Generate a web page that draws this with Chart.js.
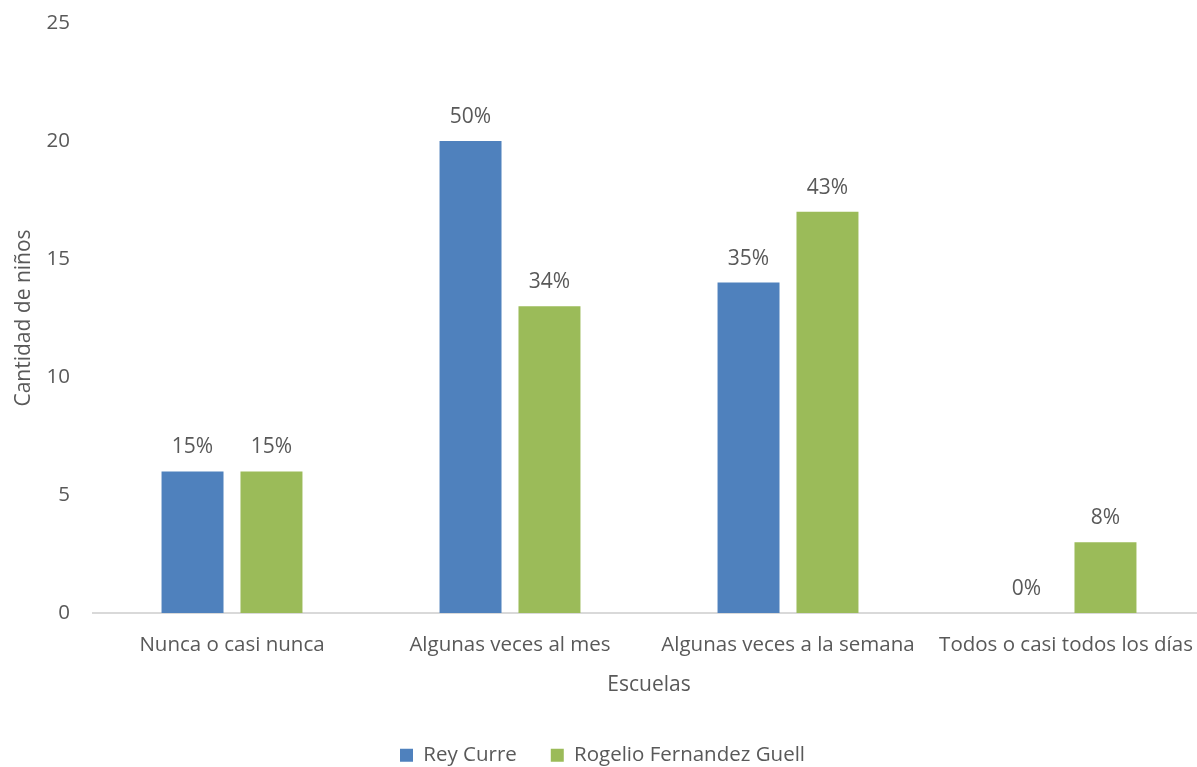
<!DOCTYPE html>
<html>
<head>
<meta charset="utf-8">
<script src="https://cdn.jsdelivr.net/npm/chart.js@4.4.1/dist/chart.umd.min.js"></script>
<style>
  html, body { margin: 0; padding: 0; background: #fff; overflow: hidden; }
  #wrap { width: 1205px; height: 767px; position: relative; }
</style>
</head>
<body>
<div id="wrap"><canvas id="chart"></canvas></div>
<script>
const categories = ['Nunca o casi nunca', 'Algunas veces al mes', 'Algunas veces a la semana', 'Todos o casi todos los días'];
const reyCurre = [6, 20, 14, 0];
const rogelio = [6, 13, 17, 3];
const reyPct = ['15%', '50%', '35%', '0%'];
const rogelioPct = ['15%', '34%', '43%', '8%'];
const yTicks = [0, 5, 10, 15, 20, 25];

const FONT = "'Open Sans', sans-serif";
const TEXT = '#595959';

// percentage labels above each bar
const pctLabels = {
  id: 'pctLabels',
  afterDatasetsDraw(chart) {
    const ctx = chart.ctx;
    ctx.save();
    ctx.font = '21px ' + FONT;
    ctx.fillStyle = TEXT;
    ctx.textAlign = 'center';
    ctx.textBaseline = 'alphabetic';
    chart.data.datasets.forEach((ds, i) => {
      chart.getDatasetMeta(i).data.forEach((bar, j) => {
        ctx.fillText(ds.pct[j], bar.x, bar.y - 18);
      });
    });
    ctx.restore();
  }
};

// keep the legend low: wide item spacing but a short box
const legendHeight = {
  id: 'legendHeight',
  afterInit(chart) {
    const lg = chart.legend;
    const fit = lg.fit;
    lg.fit = function () { fit.call(this); this.height = 56; };
  }
};

new Chart(document.getElementById('chart'), {
  type: 'bar',
  data: {
    labels: categories,
    datasets: [
      { label: 'Rey Curre', data: reyCurre, pct: reyPct, backgroundColor: '#4F81BD' },
      { label: 'Rogelio Fernandez Guell', data: rogelio, pct: rogelioPct, backgroundColor: '#9BBB59' }
    ]
  },
  options: {
    responsive: true,
    maintainAspectRatio: false,
    animation: false,
    categoryPercentage: 0.568,
    barPercentage: 0.785,
    layout: { padding: { top: 23, right: 0, left: 0, bottom: 0 } },
    plugins: {
      legend: {
        position: 'bottom',
        labels: {
          color: TEXT,
          font: { family: FONT, size: 20.5 },
          boxWidth: 13,
          boxHeight: 13,
          padding: 34
        }
      },
      tooltip: { enabled: false }
    },
    scales: {
      x: {
        grid: { display: false },
        border: { color: '#D9D9D9', width: 2 },
        ticks: { color: TEXT, font: { family: FONT, size: 20.5 }, maxRotation: 0, autoSkip: false, padding: 12 },
        title: { display: true, text: 'Escuelas', color: TEXT, font: { family: FONT, size: 21 }, padding: { top: 4, bottom: 13 } },
        afterFit(scale) { scale.height = 98; }
      },
      y: {
        min: 0,
        max: 25,
        afterBuildTicks(scale) { scale.ticks = yTicks.map(v => ({ value: v })); },
        grid: { display: false },
        border: { display: false },
        ticks: { color: TEXT, font: { family: FONT, size: 20.5 }, padding: 15 },
        title: { display: true, text: 'Cantidad de niños', color: TEXT, font: { family: FONT, size: 21 }, padding: { top: 11, bottom: 4 } },
        afterFit(scale) { scale.width = 93; scale.paddingTop = 0; scale.paddingBottom = 0; }
      }
    }
  },
  plugins: [pctLabels, legendHeight]
});
</script>
</body>
</html>
